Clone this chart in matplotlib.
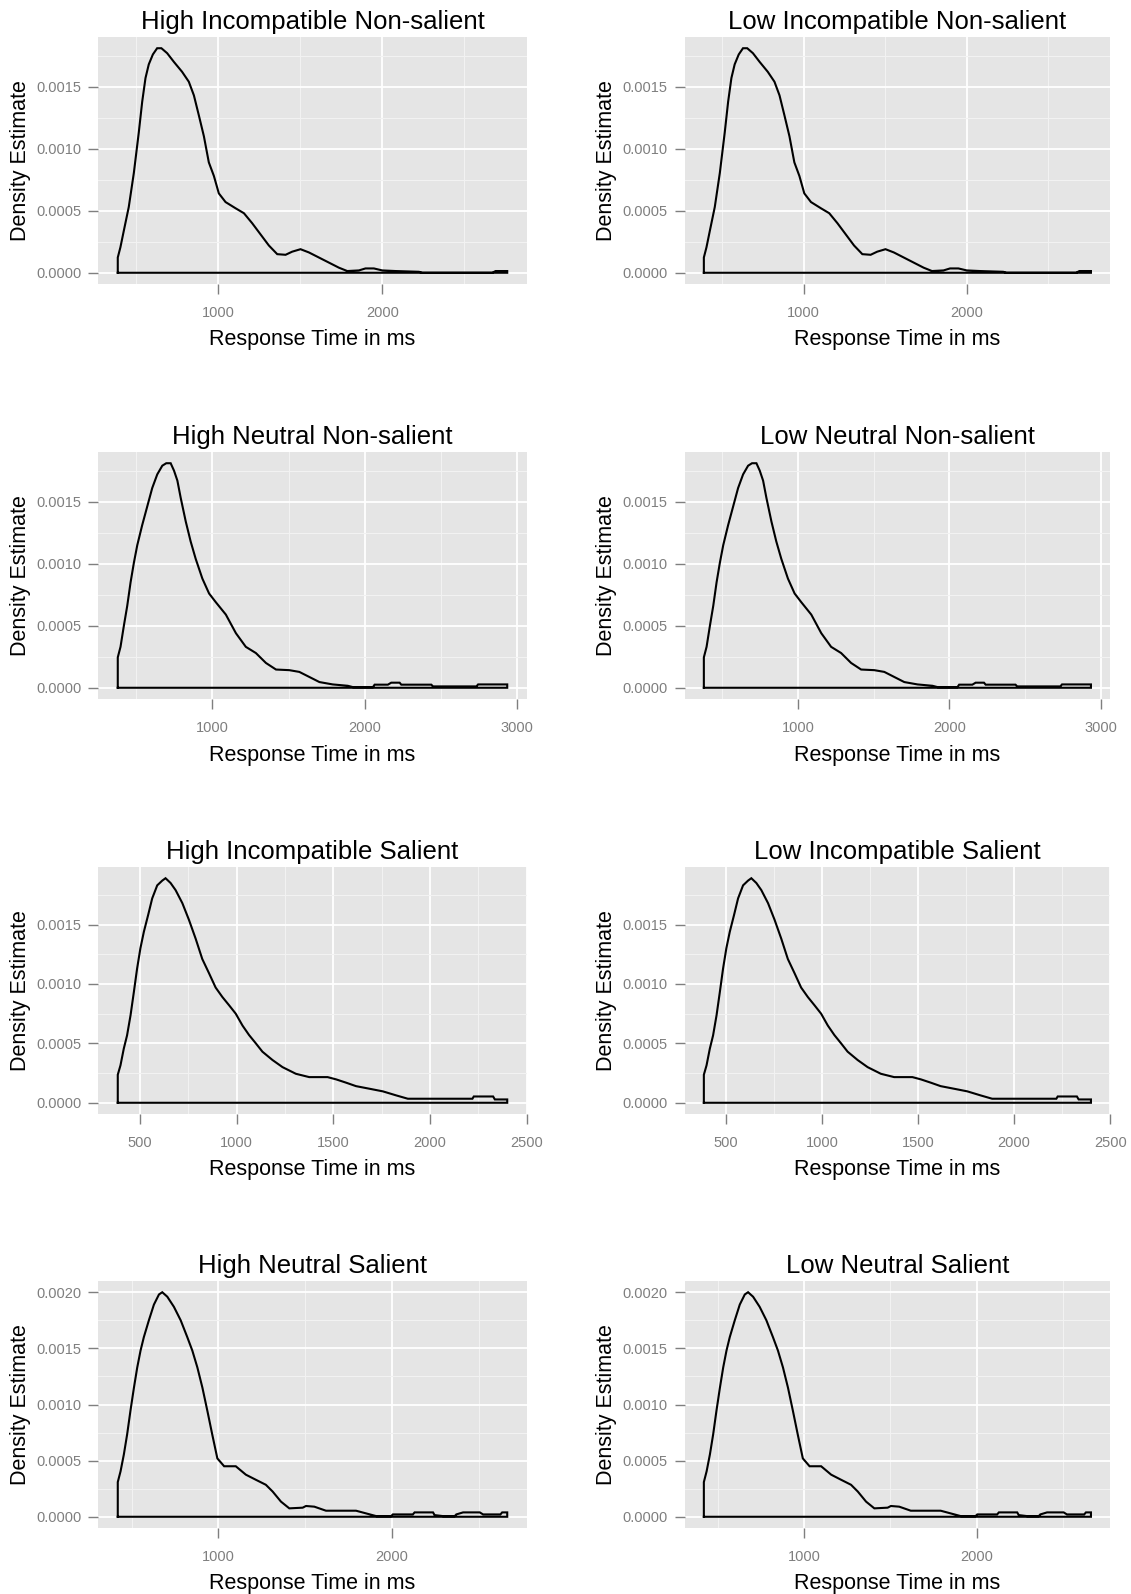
import matplotlib
matplotlib.use('Agg')
import matplotlib.pyplot as plt
from matplotlib.ticker import MultipleLocator, FormatStrFormatter

plt.rcParams['font.family'] = ['Liberation Sans', 'DejaVu Sans']

# ---------------- data ----------------
rt_incomp_nonsal = [388, 388, 404, 425, 455, 486, 516, 537, 557, 577, 602, 628, 654, 689, 730, 780,
                    821, 852, 882, 913, 943, 974, 1004, 1045, 1106, 1157, 1207, 1258, 1309, 1360,
                    1411, 1451, 1502, 1553, 1614, 1675, 1736, 1787, 1858, 1898, 1949, 2000, 2081,
                    2224, 2244, 2671, 2691, 2762]
dens_incomp_nonsal = [0.0, 0.000123, 0.000205, 0.00034, 0.00053, 0.000805, 0.00113, 0.00138, 0.00157,
                      0.00168, 0.00176, 0.00181, 0.00181, 0.00177, 0.0017, 0.00162, 0.00154, 0.00143,
                      0.00127, 0.0011, 0.00089, 0.00078, 0.00064, 0.00057, 0.00052, 0.00048, 0.0004,
                      0.00031, 0.00022, 0.00015, 0.000145, 0.00017, 0.00019, 0.000164, 0.000123,
                      0.000082, 0.000041, 0.000014, 0.000019, 0.000035, 0.000035, 0.000019, 0.000014,
                      0.000008, 0.0, 0.0, 0.000014, 0.000014]

rt_neutral_nonsal = [379, 379, 397, 419, 441, 463, 485, 507, 539, 572, 605, 638, 671, 697, 726, 748,
                     770, 792, 825, 857, 890, 934, 978, 1022, 1088, 1154, 1219, 1285, 1351, 1417, 1504,
                     1570, 1636, 1702, 1789, 1888, 1921, 2053, 2064, 2151, 2173, 2228, 2239, 2436,
                     2447, 2732, 2743, 2934]
dens_neutral_nonsal = [0.0, 0.000245, 0.00033, 0.0005, 0.00066, 0.00085, 0.00101, 0.00115, 0.00131,
                       0.00146, 0.00161, 0.00172, 0.00179, 0.00181, 0.00181, 0.00175, 0.00167, 0.00153,
                       0.00134, 0.00118, 0.00104, 0.00088, 0.00076, 0.00069, 0.00059, 0.00044, 0.00033,
                       0.00028, 0.0002, 0.000147, 0.000142, 0.000128, 0.000087, 0.000046, 0.000027,
                       0.000016, 0.0000055, 0.0000055, 0.000025, 0.000025, 0.000041, 0.000041,
                       0.000025, 0.000025, 0.000011, 0.000011, 0.000027, 0.000027]

rt_incomp_sal = [386, 386, 400, 417, 434, 452, 469, 486, 503, 521, 543, 564, 590, 616, 633, 659, 685,
                 720, 754, 789, 823, 858, 892, 927, 962, 996, 1031, 1065, 1100, 1134, 1186, 1238, 1307,
                 1376, 1471, 1515, 1567, 1618, 1688, 1757, 1826, 1886, 1964, 2220, 2227, 2327, 2336,
                 2400]
dens_incomp_sal = [0.0, 0.000236, 0.000315, 0.000455, 0.000567, 0.000736, 0.00093, 0.00113, 0.0013,
                   0.00144, 0.00158, 0.00172, 0.00183, 0.00187, 0.00189, 0.00185, 0.00179, 0.00168,
                   0.00154, 0.00138, 0.00121, 0.00109, 0.00097, 0.00089, 0.00082, 0.00075, 0.00065,
                   0.00057, 0.0005, 0.00043, 0.00036, 0.0003, 0.000244, 0.000216, 0.000216, 0.000197,
                   0.000169, 0.00014, 0.000118, 0.000096, 0.000062, 0.000034, 0.000034, 0.000034,
                   0.000053, 0.000053, 0.000028, 0.000028]

rt_neutral_sal = [421, 421, 437, 456, 475, 494, 514, 533, 552, 571, 600, 629, 658, 677, 706, 744, 783,
                  821, 850, 879, 908, 937, 965, 994, 1033, 1100, 1158, 1215, 1273, 1312, 1360, 1408,
                  1485, 1504, 1552, 1619, 1792, 1850, 1908, 1994, 2004, 2119, 2129, 2235, 2244, 2292,
                  2360, 2369, 2408, 2504, 2523, 2623, 2633, 2662]
dens_neutral_sal = [0.0, 0.000309, 0.000405, 0.000555, 0.000735, 0.000945, 0.00115, 0.00133, 0.00148,
                    0.0016, 0.00175, 0.00189, 0.00198, 0.002, 0.00196, 0.00187, 0.00175, 0.0016,
                    0.00148, 0.00133, 0.00115, 0.00094, 0.00073, 0.00052, 0.00045, 0.00045, 0.000375,
                    0.00033, 0.000285, 0.000225, 0.000135, 0.000075, 0.000081, 0.000096, 0.00009,
                    0.000054, 0.000054, 0.00003, 0.000006, 0.000006, 0.000021, 0.000021, 0.000039,
                    0.000039, 0.000015, 0.000006, 0.000006, 0.000021, 0.000039, 0.000039, 0.000021,
                    0.000021, 0.000039, 0.000039]

titles = ["High Incompatible Non-salient", "Low Incompatible Non-salient",
          "High Neutral Non-salient", "Low Neutral Non-salient",
          "High Incompatible Salient", "Low Incompatible Salient",
          "High Neutral Salient", "Low Neutral Salient"]

series = [(rt_incomp_nonsal, dens_incomp_nonsal), (rt_incomp_nonsal, dens_incomp_nonsal),
          (rt_neutral_nonsal, dens_neutral_nonsal), (rt_neutral_nonsal, dens_neutral_nonsal),
          (rt_incomp_sal, dens_incomp_sal), (rt_incomp_sal, dens_incomp_sal),
          (rt_neutral_sal, dens_neutral_sal), (rt_neutral_sal, dens_neutral_sal)]

x_major_step = [1000, 1000, 1000, 1000, 500, 500, 1000, 1000]

x_label = "Response Time in ms"
y_label = "Density Estimate"

# ---------------- layout ----------------
W, H = 1131, 1594
fig = plt.figure(figsize=(W / 100, H / 100), dpi=100)

col_left = [98.3, 684.5]
col_width = [428.4, 425.8]
row_top = [37, 452, 867, 1281]
panel_h = 247

GRID_BG = '#E5E5E5'
TICK_COL = '#7F7F7F'

for i, title in enumerate(titles):
    r, c = divmod(i, 2)
    left = col_left[c] / W
    bottom = (H - row_top[r] - panel_h) / H
    ax = fig.add_axes([left, bottom, col_width[c] / W, panel_h / H])
    ax.set_facecolor(GRID_BG)
    for s in ax.spines.values():
        s.set_visible(False)

    xs, ys = series[i]
    xx = list(xs) + [xs[-1], xs[0]]
    yy = list(ys) + [0.0, 0.0]
    ax.plot(xx, yy, color='black', lw=1.5, solid_joinstyle='miter')
    ax.margins(x=0.05, y=0.05)

    step = x_major_step[i]
    ax.xaxis.set_major_locator(MultipleLocator(step))
    ax.xaxis.set_minor_locator(MultipleLocator(step / 2))
    ax.yaxis.set_major_locator(MultipleLocator(0.0005))
    ax.yaxis.set_minor_locator(MultipleLocator(0.00025))
    ax.yaxis.set_major_formatter(FormatStrFormatter('%.4f'))
    ax.xaxis.set_major_formatter(FormatStrFormatter('%d'))

    ax.set_axisbelow(True)
    ax.grid(which='major', color='white', lw=1.3)
    ax.grid(which='minor', color='#F2F2F2', lw=0.8)

    ax.tick_params(axis='both', which='major', length=7, width=1, color=TICK_COL,
                   labelcolor=TICK_COL, labelsize=10.5)
    ax.tick_params(axis='y', which='major', pad=5)
    ax.tick_params(axis='x', which='major', pad=9)
    ax.tick_params(which='minor', length=0)

    ax.set_title(title, fontsize=18.5, color='black', pad=6)
    ax.set_xlabel(x_label, fontsize=15.5, color='black', va='center')
    ax.set_ylabel(y_label, fontsize=15.5, color='black', va='center')
    ax.xaxis.set_label_coords(0.5, -56 / panel_h)
    ax.yaxis.set_label_coords(-78 / col_width[c], 0.5)

fig.savefig('out.png', dpi=100, facecolor='white')
